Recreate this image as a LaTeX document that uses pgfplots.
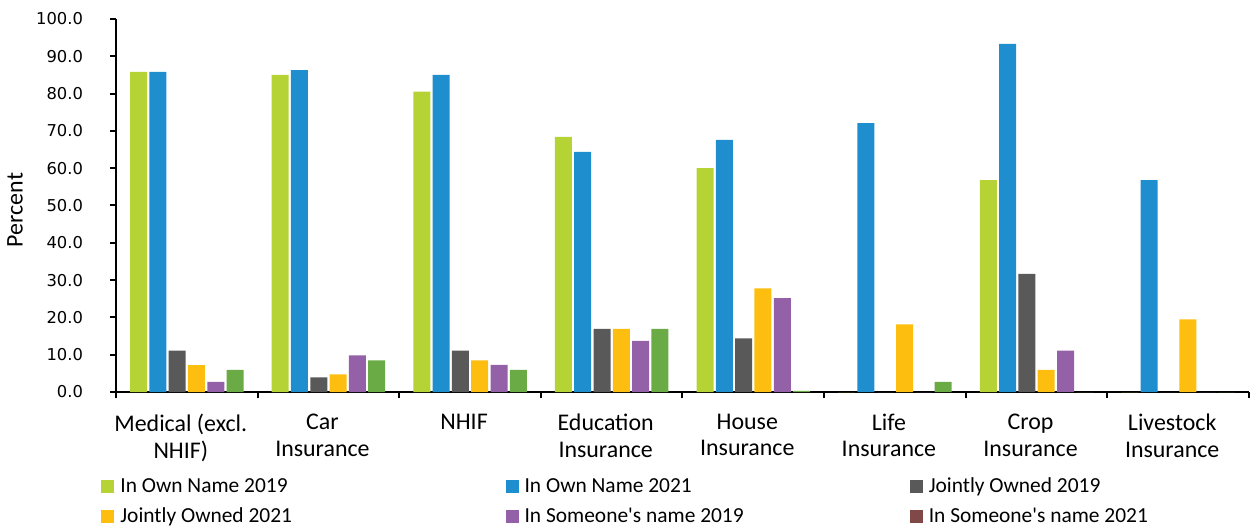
\documentclass[border=0pt]{standalone}
\usepackage{fontspec}
\setmainfont{Carlito}
\newfontfamily\dejavu{DejaVu Sans}
\usepackage{pgfplots}
\pgfplotsset{compat=1.18}
\definecolor{cA}{RGB}{181,211,52}
\definecolor{cB}{RGB}{31,142,207}
\definecolor{cC}{RGB}{89,89,89}
\definecolor{cD}{RGB}{254,190,16}
\definecolor{cE}{RGB}{148,97,168}
\definecolor{cF}{RGB}{106,171,69}
\definecolor{cG}{RGB}{128,72,70}
\begin{document}
\begin{tikzpicture}
\begin{axis}[
  scale only axis, width=566.5bp, height=186.5bp,
  xmin=-0.5, xmax=7.5, ymin=0, ymax=100,
  axis lines=left, axis line style={-, line width=1bp},
  xtick={-0.5,0.5,...,7.5}, x tick label as interval,
  xticklabels={{Medical (excl.\\NHIF)},{Car\\Insurance},{NHIF},{Education\\Insurance},{House\\Insurance},{Life\\Insurance},{Crop\\Insurance},{Livestock\\Insurance}},
  xticklabel style={font=\fontsize{12}{13.3}\selectfont, align=center, anchor=north, yshift=-4.5bp, xshift=-3bp},
  ytick={0,10,...,100},
  yticklabel style={xshift=-10bp, font=\dejavu\fontsize{8.2}{9}\selectfont},
  y tick label style={/pgf/number format/.cd, fixed, fixed zerofill, precision=1, assume math mode=true},
  tick align=outside, major tick length=3bp, tick style={black, line width=1bp},
  ylabel={Percent}, ylabel style={font=\fontsize{12}{13}\selectfont, at={(rel axis cs:0,0.488)}, anchor=center, yshift=50.5bp},
  ybar, bar width=8.5bp,
  every axis plot/.append style={draw=none},
  legend columns=3,
  legend image code/.code={\fill[#1] (0bp,-3.25bp) rectangle (6.5bp,3.25bp);},
  legend style={draw=none, fill=none, at={(rel axis cs:0,0)}, anchor=north west, xshift=-7.5bp, yshift=-41.8bp,
    inner sep=0pt, column sep=0pt, row sep=3.8bp, nodes={inner xsep=3bp, inner ysep=1bp, anchor=west, font=\fontsize{10.75}{12}\selectfont}},
  clip=false,
]
\coordinate (O) at (rel axis cs:0,0);
\addplot[fill=cA, bar shift=-24.1bp] coordinates {(0,85.8) (1,85.0) (2,80.5) (3,68.4) (4,60.0) (5,0) (6,56.8) (7,0)};
\addlegendentry{\makebox[189.6bp][l]{In Own Name 2019}}
\addplot[fill=cB, bar shift=-14.5bp] coordinates {(0,85.8) (1,86.3) (2,85.0) (3,64.4) (4,67.6) (5,72.1) (6,93.3) (7,56.8)};
\addlegendentry{\makebox[189.6bp][l]{In Own Name 2021}}
\addplot[fill=cC, bar shift=-4.8bp] coordinates {(0,11.1) (1,3.9) (2,11.1) (3,16.9) (4,14.4) (5,0) (6,31.7) (7,0)};
\addlegendentry{\makebox[189.6bp][l]{Jointly Owned 2019}}
\addplot[fill=cD, bar shift=4.8bp] coordinates {(0,7.2) (1,4.7) (2,8.5) (3,16.9) (4,27.8) (5,18.1) (6,5.9) (7,19.5)};
\addlegendentry{Jointly Owned 2021}
\addplot[fill=cE, bar shift=14.5bp] coordinates {(0,2.7) (1,9.8) (2,7.3) (3,13.7) (4,25.2) (5,0) (6,11.1) (7,0)};
\addlegendentry{In Someone\textquotesingle s name 2019}
\addplot[fill=cF, bar shift=24.1bp, legend image post style={fill=cG}] coordinates {(0,5.9) (1,8.5) (2,5.9) (3,16.9) (4,0.3) (5,2.7) (6,0) (7,0)};
\addlegendentry{In Someone\textquotesingle s name 2021}
\end{axis}
\pgfresetboundingbox
\path[use as bounding box] ([shift={(-58bp,-67.5bp)}]O) rectangle ([shift={(567.5bp,196bp)}]O);
\end{tikzpicture}
\end{document}
